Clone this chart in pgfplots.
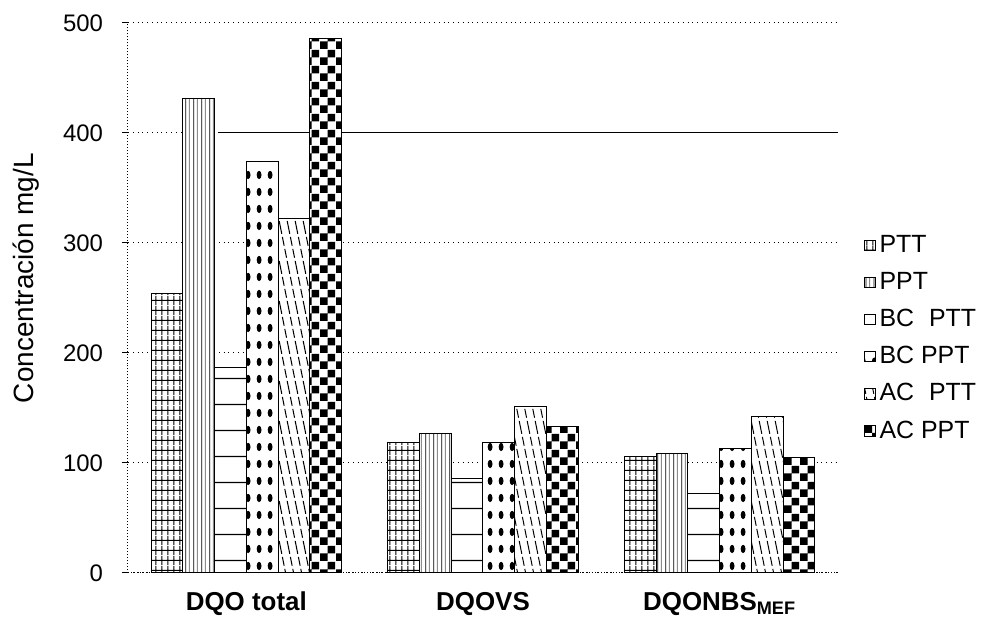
\documentclass[border=0pt]{standalone}
\usepackage{fontspec}
\setmainfont{Liberation Sans}
\usepackage{pgfplots}
\pgfplotsset{compat=1.18}
\usetikzlibrary{patterns}

% grid pattern (PTT)
\pgfdeclarepatternformonly{pttgrid}{\pgfqpoint{0bp}{0bp}}{\pgfqpoint{3.2bp}{5bp}}{\pgfqpoint{3.2bp}{5bp}}{
  \pgfsetlinewidth{0.55bp}
  \pgfpathmoveto{\pgfqpoint{1.6bp}{0bp}}\pgfpathlineto{\pgfqpoint{1.6bp}{5bp}}
  \pgfpathmoveto{\pgfqpoint{0bp}{2.5bp}}\pgfpathlineto{\pgfqpoint{3.2bp}{2.5bp}}
  \pgfusepath{stroke}}
% vertical lines black/gray (PPT)
\pgfdeclarepatterninherentlycolored{pptlines}{\pgfqpoint{0bp}{0bp}}{\pgfqpoint{4bp}{1bp}}{\pgfqpoint{4bp}{1bp}}{
  \pgfsetlinewidth{0.4bp}
  \pgfsetstrokecolor{black}
  \pgfpathmoveto{\pgfqpoint{1bp}{0bp}}\pgfpathlineto{\pgfqpoint{1bp}{1bp}}
  \pgfusepath{stroke}
  \pgfsetlinewidth{0.5bp}
  \pgfsetstrokecolor{black!45}
  \pgfpathmoveto{\pgfqpoint{3bp}{0bp}}\pgfpathlineto{\pgfqpoint{3bp}{1bp}}
  \pgfusepath{stroke}}
% sparse horizontal lines (BC PTT)
\pgfdeclarepatternformonly{bchlines}{\pgfqpoint{0bp}{0bp}}{\pgfqpoint{1bp}{13bp}}{\pgfqpoint{1bp}{13bp}}{
  \pgfsetlinewidth{0.6bp}
  \pgfpathmoveto{\pgfqpoint{0bp}{6.5bp}}\pgfpathlineto{\pgfqpoint{1bp}{6.5bp}}
  \pgfusepath{stroke}}
% elongated dots (BC PPT)
\pgfdeclarepatternformonly{bcdots}{\pgfqpoint{0bp}{0bp}}{\pgfqpoint{5.3bp}{8.5bp}}{\pgfqpoint{5.3bp}{8.5bp}}{
  \pgfpathellipse{\pgfqpoint{2.65bp}{4.25bp}}{\pgfqpoint{1.25bp}{0bp}}{\pgfqpoint{0bp}{2.2bp}}
  \pgfusepath{fill}}
% steep slanted dashed lines (AC PTT)
\pgfdeclarepatternformonly{acslant}{\pgfqpoint{-0.5bp}{-0.5bp}}{\pgfqpoint{4.5bp}{20.5bp}}{\pgfqpoint{4bp}{20bp}}{
  \pgfsetlinewidth{0.5bp}
  \pgfsetdash{{4.5bp}{1.6bp}}{0bp}
  \pgfpathmoveto{\pgfqpoint{0bp}{20bp}}\pgfpathlineto{\pgfqpoint{4bp}{0bp}}
  \pgfusepath{stroke}}
% checkerboard (AC PPT)
\pgfdeclarepatternformonly{accheck}{\pgfqpoint{0bp}{0bp}}{\pgfqpoint{8bp}{8bp}}{\pgfqpoint{8bp}{8bp}}{
  \pgfpathrectangle{\pgfqpoint{0bp}{0bp}}{\pgfqpoint{4bp}{4bp}}
  \pgfpathrectangle{\pgfqpoint{4bp}{4bp}}{\pgfqpoint{4bp}{4bp}}
  \pgfusepath{fill}}

\begin{document}
\begin{tikzpicture}
\begin{axis}[
  name=ax,
  scale only axis,
  width=355bp, height=275bp,
  xmin=-0.5, xmax=2.5,
  ymin=0, ymax=500,
  ybar=0pt,
  bar width=15.85bp,
  axis x line*=bottom,
  axis y line*=left,
  axis line style={black, densely dotted, line width=0.5bp, -},
  xtick={0,1,2},
  xticklabels={DQO total\hspace{18bp}, DQOVS\hspace{9bp}, {DQONBS\textsubscript{MEF}}},
  xtick style={draw=none},
  xticklabel style={font=\fontsize{13}{15}\bfseries, yshift=-3bp},
  ytick={0,100,200,300,400,500},
  ytick pos=left,
  tick align=outside,
  major tick length=3bp,
  ytick style={black, line width=0.5bp},
  yticklabel style={font=\fontsize{12}{14}\selectfont, xshift=-6bp},
  /pgf/number format/assume math mode=true,
  ymajorgrids,
  major grid style={black, dotted, line width=0.5bp},
  ylabel={Concentración mg/L},
  every axis y label/.style={at={(rel axis cs:0,0.536)}, rotate=90, anchor=center, yshift=51bp, font=\fontsize{14}{16}\selectfont},
  legend style={at={(rel axis cs:1,0.627)}, anchor=north west, xshift=13bp, yshift=-1.5bp, draw=none, fill=none,
    font=\fontsize{12.5}{14}\selectfont, row sep=4.4bp, inner sep=0pt},
  legend cell align=left,
  legend image code/.code={\draw[#1, draw=black, line width=0.4bp] (0bp,-2.6bp) rectangle (5.2bp,2.6bp);},
  clip=false,
]
\addplot[sharp plot, forget plot, black, line width=0.5bp] coordinates {(-0.12,400) (2.5,400)};
\addplot[draw=black, line width=0.5bp, fill=white, postaction={pattern=pttgrid, pattern color=black}] coordinates {(0,254) (1,119) (2,106)};
\addplot[draw=black, line width=0.5bp, fill=white, postaction={pattern=pptlines}] coordinates {(0,431) (1,127) (2,109)};
\addplot[draw=black, line width=0.5bp, fill=white, postaction={pattern=bchlines, pattern color=black}] coordinates {(0,187) (1,86) (2,72)};
\addplot[draw=black, line width=0.5bp, fill=white, postaction={pattern=bcdots, pattern color=black}] coordinates {(0,374) (1,119) (2,113)};
\addplot[draw=black, line width=0.5bp, fill=white, postaction={pattern=acslant, pattern color=black}] coordinates {(0,322) (1,151) (2,142)};
\addplot[draw=black, line width=0.5bp, fill=white, postaction={pattern=accheck, pattern color=black}] coordinates {(0,486) (1,133) (2,105)};
\legend{PTT, PPT, BC\hspace{0.6em}PTT, BC PPT, AC\hspace{0.6em}PTT, AC PPT}
\end{axis}
\path ([xshift=-64bp,yshift=-26bp]ax.south west) rectangle ([xshift=78bp,yshift=11.5bp]ax.north east);
\end{tikzpicture}
\end{document}
